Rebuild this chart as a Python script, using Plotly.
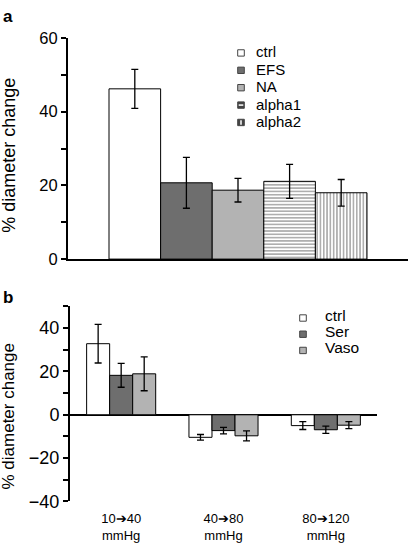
import plotly.graph_objects as go

# ---------------- data ----------------
a_labels = ["ctrl", "EFS", "NA", "alpha1", "alpha2"]
a_values = [46.2, 20.7, 18.7, 21.1, 18.0]
a_errors = [5.3, 6.9, 3.2, 4.6, 3.6]

b_categories = ["10➔40<br>mmHg", "40➔80<br>mmHg", "80➔120<br>mmHg"]
b_labels = ["ctrl", "Ser", "Vaso"]
b_ctrl = [32.8, -10.4, -5.0]
b_ctrl_err = [8.9, 1.3, 1.8]
b_ser = [18.2, -7.3, -6.9]
b_ser_err = [5.5, 1.5, 1.7]
b_vaso = [18.9, -9.7, -4.8]
b_vaso_err = [7.8, 2.3, 1.6]

# ---------------- styles ----------------
W, H = 410, 553
FONT = "Liberation Sans, Arial, sans-serif"
DARK = "#6e6e6e"
LIGHT = "#b3b3b3"
a_fill = ["white", DARK, LIGHT, "white", "white"]
a_pattern = ["", "", "", "-", "|"]
b_fill = ["white", DARK, LIGHT]

fig = go.Figure()

err_style = dict(type="data", color="black", thickness=1.3, width=3.5)

for name, v, e, fc, pat in zip(a_labels, a_values, a_errors, a_fill, a_pattern):
    marker = dict(color=fc, line=dict(color="black", width=1))
    if pat:
        marker["pattern"] = dict(shape=pat, size=3.3, solidity=0.4,
                                 fgcolor="#333333", bgcolor="white", fillmode="overlay")
    fig.add_trace(go.Bar(x=[0], y=[v], name=name, marker=marker,
                         error_y=dict(array=[e], **err_style),
                         xaxis="x", yaxis="y", showlegend=False))

for name, vals, errs, fc in zip(b_labels, [b_ctrl, b_ser, b_vaso],
                                [b_ctrl_err, b_ser_err, b_vaso_err], b_fill):
    fig.add_trace(go.Bar(x=b_categories, y=vals, name=name,
                         marker=dict(color=fc, line=dict(color="black", width=1)),
                         error_y=dict(array=errs, **err_style),
                         xaxis="x2", yaxis="y2", showlegend=False))

def px_x(p):
    return p / W

def px_y(p):
    return (H - p) / H

tick_style = dict(tickcolor="black", tickwidth=1.5, ticklen=5)

fig.update_layout(
    width=W, height=H, autosize=False,
    margin=dict(l=0, r=0, t=0, b=0),
    paper_bgcolor="white", plot_bgcolor="white",
    font=dict(family=FONT, color="black"),
    barmode="group", bargap=0.325, bargroupgap=0,
    xaxis=dict(domain=[px_x(68), px_x(408)], range=[-0.4448, 0.4448],
               showline=True, linecolor="black", linewidth=2, ticks="",
               showticklabels=False, zeroline=False, showgrid=False, anchor="y"),
    yaxis=dict(domain=[px_y(259), px_y(30)], range=[0, 60], dtick=20, tick0=0,
               ticks="outside", showline=True, linecolor="black", linewidth=2,
               zeroline=False, showgrid=False, anchor="x",
               tickfont=dict(size=16.5),
               minor=dict(dtick=10, ticks="outside", **tick_style),
               **tick_style),
    xaxis2=dict(domain=[px_x(70), px_x(377)], range=[-0.5, 2.5],
                showline=False, ticks="", zeroline=False, anchor="y2",
                tickfont=dict(size=13), ticklabelstandoff=8, showgrid=False),
    yaxis2=dict(domain=[px_y(510), px_y(308)], range=[-40, 50], dtick=20, tick0=0,
                ticks="outside", showline=True, linecolor="black", linewidth=2,
                showgrid=False, anchor="x2",
                zeroline=True, zerolinecolor="black", zerolinewidth=2,
                tickfont=dict(size=18),
                minor=dict(dtick=10, ticks="outside", **tick_style),
                **tick_style),
)

annotations = [
    dict(text="<b>a</b>", x=px_x(1), y=px_y(7.5), xanchor="left", yanchor="middle",
         font=dict(size=17)),
    dict(text="<b>b</b>", x=px_x(1), y=px_y(298.5), xanchor="left", yanchor="middle",
         font=dict(size=17)),
    dict(text="% diameter change", x=px_x(9), y=px_y(152), textangle=-90,
         xanchor="center", yanchor="middle", font=dict(size=18)),
    dict(text="% diameter change", x=px_x(9), y=px_y(422), textangle=-90,
         xanchor="center", yanchor="middle", font=dict(size=17)),
]
shapes = []

# manual legends (icon + label)
def add_legend(labels, fills, patterns, icon_cx, text_x, y0, step, fsize, text_dy):
    for i, (lab, fc, pat) in enumerate(zip(labels, fills, patterns)):
        cy = y0 + i * step
        s = 3.3
        fill = fc if not pat else "#444444"
        shapes.append(dict(type="rect", xref="paper", yref="paper",
                           x0=px_x(icon_cx - s), x1=px_x(icon_cx + s),
                           y0=px_y(cy + s), y1=px_y(cy - s),
                           fillcolor=fill, line=dict(color="#444444", width=1)))
        if pat == "-":
            shapes.append(dict(type="line", xref="paper", yref="paper",
                               x0=px_x(icon_cx - s + 1), x1=px_x(icon_cx + s - 1),
                               y0=px_y(cy), y1=px_y(cy),
                               line=dict(color="white", width=1.5)))
        elif pat == "|":
            shapes.append(dict(type="line", xref="paper", yref="paper",
                               x0=px_x(icon_cx), x1=px_x(icon_cx),
                               y0=px_y(cy - s + 1), y1=px_y(cy + s - 1),
                               line=dict(color="white", width=1.5)))
        annotations.append(dict(text=lab, x=px_x(text_x), y=px_y(cy + text_dy),
                                xanchor="left", yanchor="middle",
                                font=dict(size=fsize)))

add_legend(a_labels, a_fill, a_pattern, 241, 254, 45.5, 18, 15, -1)
add_legend(b_labels, b_fill, ["", "", ""], 303, 323, 320, 16.8, 15.5, -3)

for an in annotations:
    an.setdefault("xref", "paper")
    an.setdefault("yref", "paper")
    an.setdefault("showarrow", False)

fig.update_layout(annotations=annotations, shapes=shapes)

fig.write_html("out.html", config={"displayModeBar": False},
               post_script="document.body.style.margin='0';document.body.style.padding='0';")
